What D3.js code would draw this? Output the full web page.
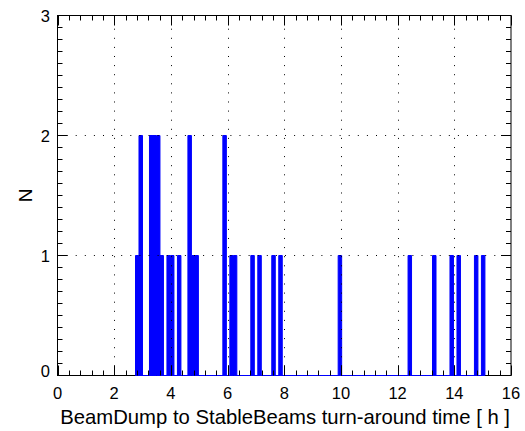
<!DOCTYPE html>
<html>
<head>
<meta charset="utf-8">
<script src="https://cdn.jsdelivr.net/npm/d3@7"></script>
<style>
  html, body { margin: 0; padding: 0; background: #fff; }
  svg { display: block; font-family: "Liberation Sans", Arial, Helvetica, sans-serif; }
</style>
</head>
<body>
<svg id="chart" width="525" height="431"></svg>
<script>
// ---- data ----
const xDomain = [0, 16];
const yDomain = [0, 3];
const xTickValues = [0, 2, 4, 6, 8, 10, 12, 14, 16];
const yTickValues = [0, 1, 2, 3];
const histMin = 2.752;      // hours (lowest bin edge)
const histMax = 15.08;      // hours (highest bin edge)
const nBins = 100;
const binIndex = [0, 1, 4, 5, 6, 7, 9, 10, 12, 15, 16, 17, 25, 27, 28, 33, 35, 39, 41, 58, 78, 85, 90, 92, 97, 99];
const binCount = [1, 2, 2, 2, 2, 1, 1, 1, 1, 2, 1, 1, 2, 1, 1, 1, 1, 1, 1, 1, 1, 1, 1, 1, 1, 1];
const xTitle = "BeamDump to StableBeams turn-around time [ h ]";
const yTitle = "N";

// ---- layout ----
const L = 57.5, R = 511, T = 15.5, B = 375.5;
const svg = d3.select("#chart");
const x = d3.scaleLinear().domain(xDomain).range([L, R]);
const y = d3.scaleLinear().domain(yDomain).range([B, T]);

// frame
svg.append("rect").attr("x", L).attr("y", T).attr("width", R - L).attr("height", B - T)
  .attr("fill", "none").attr("stroke", "#000").attr("stroke-width", 1);

// histogram counts
const counts = new Array(nBins).fill(0);
binIndex.forEach((b, i) => { counts[b] = binCount[i]; });
const bw = (histMax - histMin) / nBins;
const pts = [];
for (let k = 0; k < nBins; k++) {
  pts.push([histMin + k * bw, counts[k]]);
}
pts.push([histMax, counts[nBins - 1]]);
const area = d3.area().curve(d3.curveStepAfter)
  .x(d => x(d[0])).y0(y(0)).y1(d => y(d[1]));
svg.append("path").datum(pts).attr("d", area)
  .attr("fill", "#0000ff").attr("stroke", "#0000ff").attr("stroke-width", 1);

// grid
const grid = svg.append("g").attr("stroke", "#000").attr("stroke-width", 1)
  .attr("stroke-dasharray", "1,8.1");
xTickValues.filter(v => v > xDomain[0] && v < xDomain[1]).forEach(v => {
  grid.append("line").attr("x1", Math.round(x(v)) + 0.5).attr("x2", Math.round(x(v)) + 0.5)
    .attr("y1", B).attr("y2", T);
});
yTickValues.filter(v => v > yDomain[0] && v < yDomain[1]).forEach(v => {
  grid.append("line").attr("y1", y(v)).attr("y2", y(v)).attr("x1", L).attr("x2", R);
});

// axes ticks (ROOT style, inside)
const xMinor = d3.range(0, 16.0001, 0.4);
const yMinor = d3.range(0, 3.0001, 0.1);
const tk = svg.append("g").attr("stroke", "#000").attr("stroke-width", 1);
xMinor.forEach(v => {
  const major = Math.abs(v / 2 - Math.round(v / 2)) < 1e-6;
  const len = major ? 10 : 5;
  const xx = Math.round(x(v)) + 0.5;
  tk.append("line").attr("x1", xx).attr("x2", xx).attr("y1", B).attr("y2", B - len);
  tk.append("line").attr("x1", xx).attr("x2", xx).attr("y1", T).attr("y2", T + len);
});
yMinor.forEach(v => {
  const major = Math.abs(v - Math.round(v)) < 1e-6;
  const len = major ? 10 : 5;
  const yy = y(v);
  tk.append("line").attr("x1", L).attr("x2", L + len).attr("y1", yy).attr("y2", yy);
  tk.append("line").attr("x1", R).attr("x2", R - len).attr("y1", yy).attr("y2", yy);
});

// tick labels
svg.append("g").selectAll("text").data(xTickValues).join("text")
  .attr("x", d => x(d)).attr("y", 398.5)
  .attr("text-anchor", "middle").attr("font-size", 16.5).attr("fill", "#000")
  .text(d => d);
svg.append("g").selectAll("text").data(yTickValues).join("text")
  .attr("x", 50).attr("y", d => y(d) + (d === 0 ? -5 : 0) + 6)
  .attr("text-anchor", "end").attr("font-size", 16.5).attr("fill", "#000")
  .text(d => d);

// titles
svg.append("text").attr("x", 510).attr("y", 424).attr("text-anchor", "end")
  .attr("font-size", 20.3).attr("fill", "#000").text(xTitle);
svg.append("text").attr("transform", `translate(32,${(T + B) / 2}) rotate(-90)`)
  .attr("text-anchor", "middle").attr("font-size", 19).attr("fill", "#000").text(yTitle);
</script>
</body>
</html>
